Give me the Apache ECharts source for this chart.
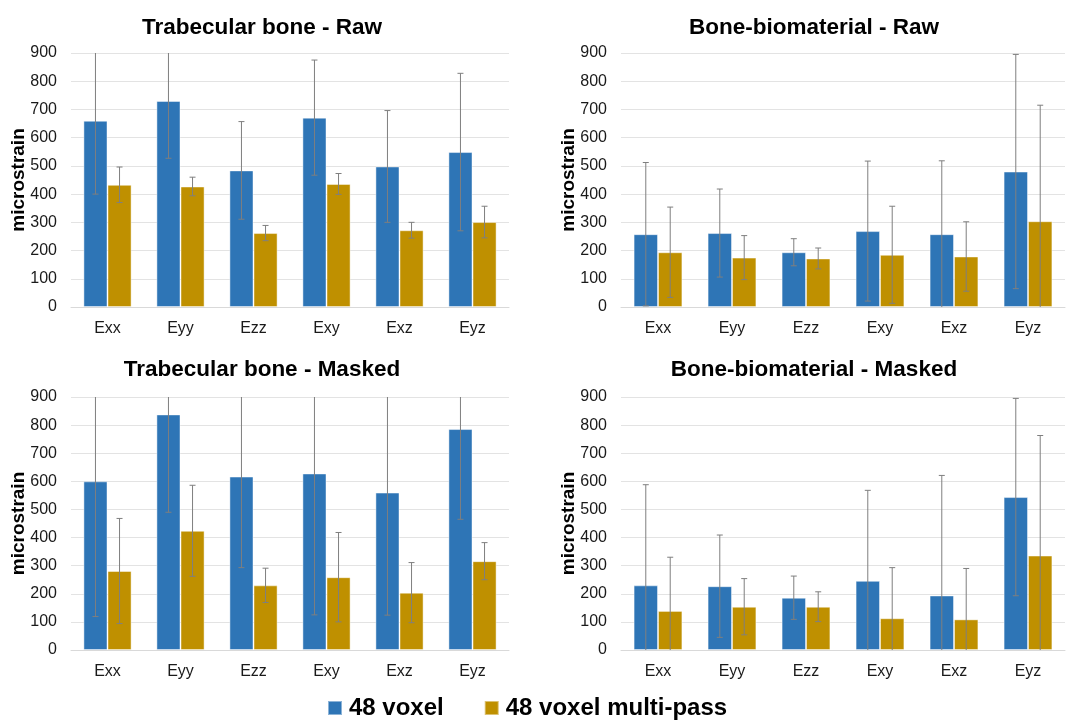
<!DOCTYPE html>
<html>
<head>
<meta charset="utf-8">
<script src="https://cdn.jsdelivr.net/npm/echarts@6/dist/echarts.min.js"></script>
<style>
  html, body { margin: 0; padding: 0; background: #fff; }
  #chart { width: 1070px; height: 720px; }
</style>
</head>
<body>
<div id="chart"></div>
<script>
// Strain components on the x axis
const categories = ['Exx', 'Eyy', 'Ezz', 'Exy', 'Exz', 'Eyz'];
const seriesNames = ['48 voxel', '48 voxel multi-pass'];
const yTicks = [0, 100, 200, 300, 400, 500, 600, 700, 800, 900];

// Trabecular bone - Raw: means and standard deviations
const tbRawVoxel = [660, 730, 484, 671, 498, 549];
const tbRawVoxelSd = [260, 203, 173, 204, 198, 279];
const tbRawMulti = [433, 427, 262, 436, 272, 301];
const tbRawMultiSd = [63, 33, 27, 37, 28, 56];

// Bone-biomaterial - Raw
const bbRawVoxel = [258, 262, 194, 269, 258, 480];
const bbRawVoxelSd = [254, 156, 48, 248, 260, 415];
const bbRawMulti = [194, 175, 172, 185, 179, 304];
const bbRawMultiSd = [160, 78, 37, 172, 123, 411];

// Trabecular bone - Masked
const tbMaskVoxel = [600, 838, 617, 628, 560, 786];
const tbMaskVoxelSd = [481, 348, 324, 503, 436, 321];
const tbMaskMulti = [281, 424, 230, 259, 204, 316];
const tbMaskMultiSd = [187, 162, 61, 159, 107, 66];

// Bone-biomaterial - Masked
const bbMaskVoxel = [230, 227, 186, 246, 194, 544];
const bbMaskVoxelSd = [358, 182, 77, 322, 427, 351];
const bbMaskMulti = [139, 154, 154, 113, 109, 336];
const bbMaskMultiSd = [191, 100, 53, 180, 181, 427];

const panelTitles = ['Trabecular bone - Raw', 'Bone-biomaterial - Raw',
                     'Trabecular bone - Masked', 'Bone-biomaterial - Masked'];
const panelData = [
  [tbRawVoxel, tbRawVoxelSd, tbRawMulti, tbRawMultiSd],
  [bbRawVoxel, bbRawVoxelSd, bbRawMulti, bbRawMultiSd],
  [tbMaskVoxel, tbMaskVoxelSd, tbMaskMulti, tbMaskMultiSd],
  [bbMaskVoxel, bbMaskVoxelSd, bbMaskMulti, bbMaskMultiSd]
];

const FONT = 'Liberation Sans, Arial, sans-serif';
const COLORS = ['#2E75B6', '#BF9000'];
const CAT_GAP = 0.34;

const grids = [
  { left: 71, top: 53, width: 438, height: 254 },
  { left: 621, top: 53, width: 444, height: 254 },
  { left: 71, top: 397, width: 438, height: 253 },
  { left: 621, top: 397, width: 444, height: 253 }
];
const titlePos = [
  { left: 257, top: 11 }, { left: 809, top: 11 },
  { left: 257, top: 353 }, { left: 809, top: 353 }
];

// Symmetric error bars, clipped to the plot area (no cap where clipped)
function renderErr(params, api) {
  const ci = api.value(0), si = api.value(1), v = api.value(2), e = api.value(3);
  const band = api.size([1, 0])[0];
  const barW = band * (1 - CAT_GAP) / 2;
  const cx = api.coord([ci, 0])[0] + (si === 0 ? -barW / 2 : barW / 2);
  const cs = params.coordSys;
  const top = cs.y, bot = cs.y + cs.height;
  let yHi = api.coord([ci, v + e])[1];
  let yLo = api.coord([ci, v - e])[1];
  const capHi = yHi >= top - 0.5, capLo = yLo <= bot - 1;
  yHi = Math.max(yHi, top);
  yLo = Math.min(yLo, bot);
  const style = { stroke: '#7f7f7f', lineWidth: 1 };
  const children = [{ type: 'line', shape: { x1: cx, y1: yHi, x2: cx, y2: yLo }, style }];
  const c = 3;
  if (capHi) children.push({ type: 'line', shape: { x1: cx - c, y1: yHi, x2: cx + c, y2: yHi }, style });
  if (capLo) children.push({ type: 'line', shape: { x1: cx - c, y1: yLo, x2: cx + c, y2: yLo }, style });
  return { type: 'group', children };
}

const option = {
  animation: false,
  backgroundColor: '#ffffff',
  textStyle: { fontFamily: FONT },
  title: panelTitles.map((t, i) => ({
    text: t,
    left: titlePos[i].left,
    top: titlePos[i].top,
    textAlign: 'center',
    textStyle: { fontFamily: FONT, fontSize: 22.5, fontWeight: 'bold', color: '#000' }
  })),
  legend: {
    data: seriesNames,
    top: 691,
    left: 322,
    itemWidth: 14,
    itemHeight: 14,
    itemGap: 40,
    icon: 'rect',
    textStyle: { fontFamily: FONT, fontSize: 24, fontWeight: 'bold', color: '#000', padding: [0, 0, 0, 2] }
  },
  grid: grids,
  xAxis: grids.map((g, i) => ({
    type: 'category',
    gridIndex: i,
    data: categories,
    axisLine: { show: true, lineStyle: { color: '#d9d9d9', width: 1 } },
    axisTick: { show: false },
    axisLabel: { fontFamily: FONT, fontSize: 16, color: '#1a1a1a', margin: 14 }
  })),
  yAxis: grids.map((g, i) => ({
    type: 'value',
    gridIndex: i,
    min: yTicks[0],
    max: yTicks[yTicks.length - 1],
    interval: yTicks[1] - yTicks[0],
    name: 'microstrain',
    nameLocation: 'middle',
    nameGap: 43,
    nameMoveOverlap: false,
    nameTextStyle: { fontFamily: FONT, fontSize: 19, fontWeight: 'bold', color: '#000' },
    axisLine: { show: false },
    axisTick: { show: false },
    splitLine: { lineStyle: { color: '#e3e3e3', width: 1 } },
    axisLabel: { fontFamily: FONT, fontSize: 16, color: '#1a1a1a', margin: 14 }
  })),
  series: []
};

panelData.forEach((pd, i) => {
  [0, 1].forEach(si => {
    option.series.push({
      name: seriesNames[si],
      type: 'bar',
      xAxisIndex: i,
      yAxisIndex: i,
      data: pd[si * 2],
      barGap: '0%',
      barCategoryGap: (CAT_GAP * 100) + '%',
      itemStyle: { color: COLORS[si], borderColor: 'rgba(255,255,255,0.45)', borderWidth: 1 }
    });
  });
  const errData = [];
  [0, 1].forEach(si => {
    pd[si * 2].forEach((v, ci) => errData.push([ci, si, v, pd[si * 2 + 1][ci]]));
  });
  option.series.push({
    type: 'custom',
    xAxisIndex: i,
    yAxisIndex: i,
    renderItem: renderErr,
    encode: { x: 0, y: 2 },
    data: errData,
    z: 5,
    silent: true
  });
});

const chart = echarts.init(document.getElementById('chart'), null, { renderer: 'canvas' });
chart.setOption(option);
</script>
</body>
</html>
